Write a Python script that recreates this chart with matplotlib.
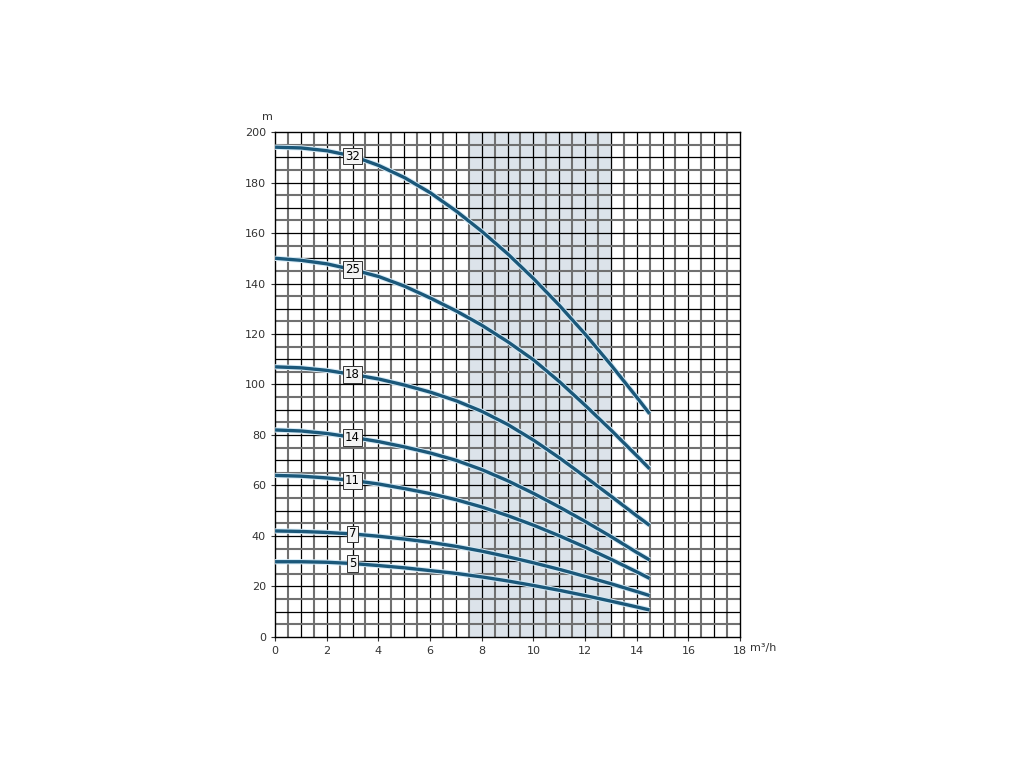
import numpy as np
import matplotlib
matplotlib.use("Agg")
import matplotlib.pyplot as plt
import matplotlib.patheffects as pe

plt.rcParams['font.family'] = ['Liberation Sans Narrow', 'DejaVu Sans']

# flow rate (m3/h)
flow = [0, 1, 2, 3, 4, 5, 6, 7, 8, 9, 10, 11, 12, 13, 14, 14.5]

# head (m) per number of stages
stages = ["32", "25", "18", "14", "11", "7", "5"]
head = {
    "32": [194, 193.7, 192.6, 190.5, 186.8, 182, 176, 168.8, 160.7, 151.8, 142, 131.4, 120, 107.8, 95, 88.4],
    "25": [150, 149.2, 147.8, 145.5, 142.8, 139, 134.3, 129.2, 123.5, 117, 109.8, 101.2, 91.8, 82, 71.8, 66.6],
    "18": [107, 106.6, 105.6, 104, 102.2, 99.8, 97, 93.6, 89.4, 84.2, 78, 71, 63.5, 55.8, 48, 44.2],
    "14": [82, 81.6, 80.6, 79.1, 77.4, 75.3, 72.9, 70, 66.3, 61.9, 56.9, 51.5, 45.8, 39.8, 33.5, 30.5],
    "11": [64, 63.7, 63, 62, 60.6, 58.8, 56.8, 54.4, 51.5, 48.1, 44.3, 40.1, 35.6, 30.8, 25.8, 23.2],
    "7":  [42, 41.8, 41.4, 40.8, 39.9, 38.8, 37.5, 35.9, 34, 31.8, 29.4, 26.8, 24, 21.1, 18, 16.4],
    "5":  [29.8, 29.8, 29.6, 29.1, 28.3, 27.4, 26.3, 25.2, 23.8, 22.2, 20.4, 18.5, 16.4, 14.2, 11.9, 10.7],
}
label_flow = 3

# recommended operating range
band = (7.5, 13)

fig = plt.figure(figsize=(10.24, 7.68), dpi=100)
ax = fig.add_axes([0.2686, 0.1706, 0.4541, 0.6575])

ax.axvspan(band[0], band[1], color="#dce3ea", zorder=0)

# grid: gray heavier lines on odd half-steps, black on the rest
for x in np.arange(0.5, 18, 0.5):
    odd = (x * 2) % 2 == 1
    ax.axvline(x, color="#707070" if odd else "black", lw=1.5 if odd else 0.9, zorder=1)
for y in np.arange(5, 200, 5):
    odd = (y / 5) % 2 == 1
    ax.axhline(y, color="#707070" if odd else "black", lw=1.5 if odd else 0.9, zorder=1)

curve_col = "#1b587a"
for s in stages:
    ax.plot(flow, head[s], color=curve_col, lw=2.4, zorder=3, solid_capstyle="butt",
            solid_joinstyle="round",
            path_effects=[pe.Stroke(linewidth=3.8, foreground="#d6ebf7"), pe.Normal()])
    yv = np.interp(label_flow, flow, head[s])
    ax.text(label_flow, yv, s, ha="center", va="center", fontsize=8.5, zorder=4,
            bbox=dict(boxstyle="square,pad=0.15", fc="#f4f4f4", ec="#333333", lw=0.7))

ax.set_xlim(0, 18)
ax.set_ylim(0, 200)
ax.set_xticks(np.arange(0, 19, 2))
ax.set_yticks(np.arange(0, 201, 20))
ax.tick_params(labelsize=8, colors="#333333", length=3, width=0.8)
for sp in ax.spines.values():
    sp.set_color("black")
    sp.set_linewidth(1.0)

ax.text(-0.3, 204, "m", ha="center", va="bottom", fontsize=8, color="#333333")
ax.text(18.4, -2.5, "m³/h", ha="left", va="top", fontsize=8, color="#333333")

fig.savefig("out.png", dpi=100)
